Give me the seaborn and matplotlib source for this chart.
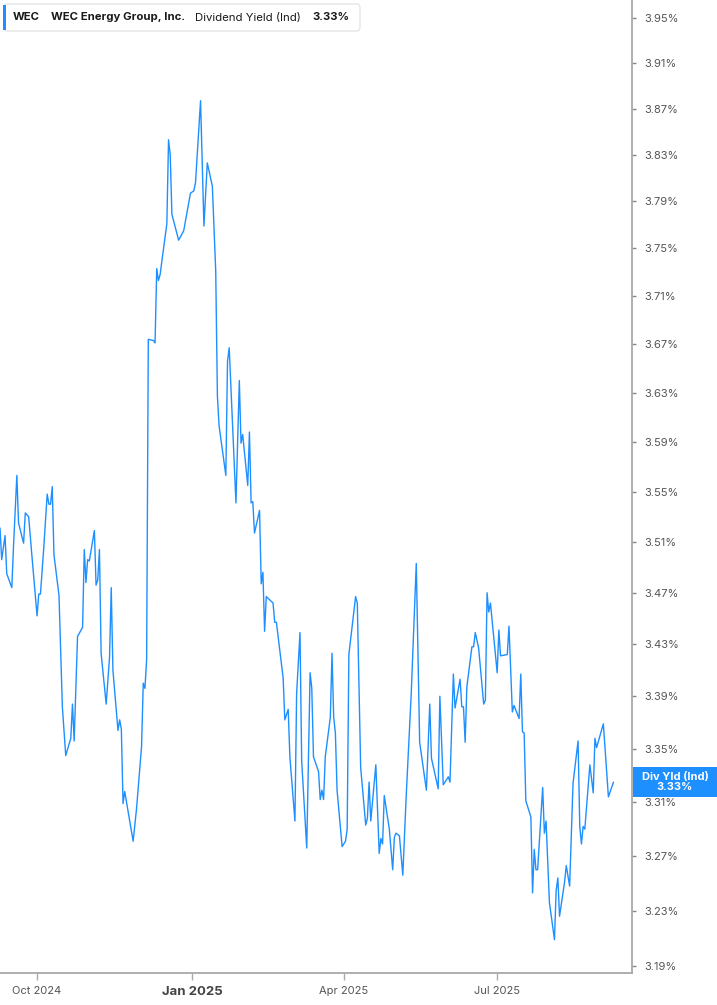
import pandas as pd
import matplotlib
matplotlib.use('Agg')
import matplotlib.pyplot as plt
import matplotlib.dates as mdates
from matplotlib.ticker import FixedLocator, FuncFormatter, NullLocator
from matplotlib.patches import FancyBboxPatch, Rectangle
import seaborn as sns

# WEC dividend yield (indicated)
dates = [
    '2024-09-09', '2024-09-10', '2024-09-12', '2024-09-13', '2024-09-16', '2024-09-17',
    '2024-09-19', '2024-09-20', '2024-09-23', '2024-09-24', '2024-09-26', '2024-09-28',
    '2024-10-01', '2024-10-02', '2024-10-03', '2024-10-05', '2024-10-07', '2024-10-08',
    '2024-10-09', '2024-10-10', '2024-10-11', '2024-10-14', '2024-10-16', '2024-10-18',
    '2024-10-21', '2024-10-22', '2024-10-23', '2024-10-25', '2024-10-28', '2024-10-29',
    '2024-10-30', '2024-10-31', '2024-11-01', '2024-11-04', '2024-11-05', '2024-11-06',
    '2024-11-07', '2024-11-08', '2024-11-11', '2024-11-13', '2024-11-14', '2024-11-15',
    '2024-11-18', '2024-11-19', '2024-11-20', '2024-11-21', '2024-11-22', '2024-11-27',
    '2024-11-29', '2024-12-02', '2024-12-03', '2024-12-04', '2024-12-05', '2024-12-06',
    '2024-12-09', '2024-12-10', '2024-12-11', '2024-12-12', '2024-12-13', '2024-12-17',
    '2024-12-18', '2024-12-19', '2024-12-20', '2024-12-24', '2024-12-27', '2024-12-31',
    '2025-01-02', '2025-01-03', '2025-01-06', '2025-01-08', '2025-01-10', '2025-01-13',
    '2025-01-15', '2025-01-16', '2025-01-17', '2025-01-21', '2025-01-22', '2025-01-23',
    '2025-01-27', '2025-01-29', '2025-01-30', '2025-01-31', '2025-02-03', '2025-02-04',
    '2025-02-05', '2025-02-06', '2025-02-07', '2025-02-10', '2025-02-11', '2025-02-12',
    '2025-02-13', '2025-02-14', '2025-02-18', '2025-02-19', '2025-02-20', '2025-02-24',
    '2025-02-25', '2025-02-27', '2025-02-28', '2025-03-03', '2025-03-04', '2025-03-06',
    '2025-03-07', '2025-03-10', '2025-03-12', '2025-03-13', '2025-03-14', '2025-03-17',
    '2025-03-18', '2025-03-19', '2025-03-20', '2025-03-21', '2025-03-24', '2025-03-25',
    '2025-03-26', '2025-03-27', '2025-03-28', '2025-03-31', '2025-04-02', '2025-04-03',
    '2025-04-04', '2025-04-08', '2025-04-09', '2025-04-11', '2025-04-14', '2025-04-15',
    '2025-04-16', '2025-04-17', '2025-04-20', '2025-04-22', '2025-04-23', '2025-04-24',
    '2025-04-25', '2025-04-28', '2025-04-30', '2025-05-01', '2025-05-02', '2025-05-04',
    '2025-05-06', '2025-05-08', '2025-05-11', '2025-05-14', '2025-05-16', '2025-05-20',
    '2025-05-22', '2025-05-23', '2025-05-27', '2025-05-28', '2025-05-30', '2025-06-02',
    '2025-06-03', '2025-06-05', '2025-06-06', '2025-06-09', '2025-06-10', '2025-06-11',
    '2025-06-12', '2025-06-13', '2025-06-16', '2025-06-17', '2025-06-18', '2025-06-20',
    '2025-06-23', '2025-06-24', '2025-06-25', '2025-06-26', '2025-06-27', '2025-07-01',
    '2025-07-02', '2025-07-03', '2025-07-07', '2025-07-08', '2025-07-10', '2025-07-11',
    '2025-07-14', '2025-07-15', '2025-07-16', '2025-07-17', '2025-07-18', '2025-07-21',
    '2025-07-22', '2025-07-23', '2025-07-24', '2025-07-25', '2025-07-28', '2025-07-29',
    '2025-07-30', '2025-08-01', '2025-08-04', '2025-08-05', '2025-08-06', '2025-08-07',
    '2025-08-10', '2025-08-11', '2025-08-13', '2025-08-15', '2025-08-18', '2025-08-19',
    '2025-08-20', '2025-08-21', '2025-08-22', '2025-08-25', '2025-08-27', '2025-08-28',
    '2025-08-29', '2025-09-02', '2025-09-05', '2025-09-08',
]
div_yield = [
    3.521, 3.496, 3.515, 3.485, 3.474, 3.506,
    3.563, 3.525, 3.509, 3.533, 3.530, 3.498,
    3.452, 3.469, 3.469, 3.506, 3.548, 3.540,
    3.540, 3.554, 3.500, 3.468, 3.382, 3.345,
    3.358, 3.384, 3.356, 3.436, 3.443, 3.504,
    3.478, 3.496, 3.495, 3.519, 3.476, 3.480,
    3.504, 3.423, 3.384, 3.420, 3.474, 3.410,
    3.364, 3.372, 3.365, 3.309, 3.318, 3.281,
    3.305, 3.352, 3.400, 3.396, 3.418, 3.674,
    3.673, 3.671, 3.733, 3.723, 3.728, 3.771,
    3.843, 3.830, 3.779, 3.757, 3.765, 3.797,
    3.799, 3.806, 3.877, 3.769, 3.823, 3.803,
    3.731, 3.627, 3.603, 3.563, 3.656, 3.667,
    3.541, 3.640, 3.589, 3.596, 3.555, 3.598,
    3.541, 3.542, 3.517, 3.535, 3.477, 3.486,
    3.440, 3.467, 3.462, 3.447, 3.447, 3.404,
    3.372, 3.380, 3.344, 3.296, 3.392, 3.439,
    3.341, 3.276, 3.408, 3.396, 3.344, 3.333,
    3.312, 3.319, 3.312, 3.344, 3.374, 3.423,
    3.374, 3.362, 3.319, 3.277, 3.281, 3.290,
    3.422, 3.467, 3.462, 3.336, 3.293, 3.298,
    3.325, 3.296, 3.338, 3.272, 3.283, 3.279,
    3.315, 3.290, 3.260, 3.284, 3.287, 3.285,
    3.256, 3.314, 3.392, 3.493, 3.355, 3.319,
    3.384, 3.343, 3.320, 3.390, 3.323, 3.329,
    3.325, 3.407, 3.381, 3.403, 3.382, 3.382,
    3.355, 3.397, 3.428, 3.428, 3.439, 3.427,
    3.384, 3.387, 3.470, 3.455, 3.462, 3.408,
    3.441, 3.421, 3.422, 3.444, 3.378, 3.383,
    3.373, 3.407, 3.363, 3.362, 3.311, 3.299,
    3.243, 3.275, 3.260, 3.260, 3.321, 3.287,
    3.296, 3.236, 3.209, 3.245, 3.254, 3.226,
    3.251, 3.263, 3.248, 3.324, 3.356, 3.292,
    3.279, 3.292, 3.290, 3.338, 3.317, 3.358,
    3.351, 3.369, 3.314, 3.325,
]

y_ticks = [3.19, 3.23, 3.27, 3.31, 3.35, 3.39, 3.43, 3.47, 3.51, 3.55,
           3.59, 3.63, 3.67, 3.71, 3.75, 3.79, 3.83, 3.87, 3.91, 3.95]
x_ticks = ['2024-10-01', '2025-01-01', '2025-04-01', '2025-07-01']
x_labels = ['Oct 2024', 'Jan 2025', 'Apr 2025', 'Jul 2025']

BLUE = '#1e8fff'
W, H = 717, 1005

sns.set_style('white')
plt.rcParams['font.family'] = ['Inter', 'DejaVu Sans']

df = pd.DataFrame({'date': pd.to_datetime(dates), 'yield': div_yield})

fig = plt.figure(figsize=(W / 100, H / 100), dpi=100)
ax = fig.add_axes([0, 1 - 973 / H, 632 / W, 973 / H])
sns.lineplot(data=df, x='date', y='yield', ax=ax, color=BLUE, linewidth=1.0)

ax.set_yscale('log')
ax.set_ylim(3.185, 3.966)
ax.set_xlim(pd.Timestamp('2024-09-09'), pd.Timestamp('2025-09-19'))
ax.set_xlabel('')
ax.set_ylabel('')

# right-hand percent axis
ax.yaxis.tick_right()
ax.yaxis.set_major_locator(FixedLocator(y_ticks))
ax.yaxis.set_minor_locator(NullLocator())
ax.yaxis.set_major_formatter(FuncFormatter(lambda v, p: f'{v:.2f}%'))
ax.tick_params(axis='y', which='major', right=True, left=False, length=3,
               width=1, color='#888888', pad=6, labelsize=8, labelcolor='#555555')

ax.set_xticks(pd.to_datetime(x_ticks))
ax.set_xticklabels(x_labels)
ax.tick_params(axis='x', bottom=True, length=5, width=1, color='#aaaaaa',
               pad=4, labelsize=8, labelcolor='#555555')
for lbl in ax.get_xticklabels():
    if lbl.get_text() == 'Jan 2025':
        lbl.set_fontweight('bold')
        lbl.set_fontsize(9.5)
        lbl.set_color('#444444')

for side in ['left', 'top']:
    ax.spines[side].set_visible(False)
for side in ['right', 'bottom']:
    ax.spines[side].set_color('#a8a8a8')
    ax.spines[side].set_linewidth(1.3)


def fx(px):
    return px / W


def fy(py):
    return 1 - py / H


# header legend box
box = FancyBboxPatch((fx(4), fy(31)), fx(356), 27 / H,
                     boxstyle='round,pad=0,rounding_size=0.004',
                     transform=fig.transFigure, facecolor='white',
                     edgecolor='#e6e6e6', linewidth=1.0, zorder=5)
fig.add_artist(box)
fig.add_artist(Rectangle((fx(3), fy(30)), fx(3), 25 / H, transform=fig.transFigure,
                         facecolor=BLUE, edgecolor='none', zorder=6))
head_y = fy(17.5)
head_size = 8.2
fig.text(fx(13), head_y, 'WEC', weight='bold', size=head_size, va='center',
         color='#1a1a1a', zorder=7)
fig.text(fx(51), head_y, 'WEC Energy Group, Inc.', weight='bold', size=head_size,
         va='center', color='#1a1a1a', zorder=7)
fig.text(fx(195), head_y, 'Dividend Yield (Ind)', size=head_size, va='center',
         color='#1a1a1a', zorder=7)
fig.text(fx(312), head_y, f'{div_yield[-1]:.2f}%', weight='bold', size=head_size,
         va='center', color='#1a1a1a', zorder=7)

# last value tag on the right axis
last_disp = ax.transData.transform((mdates.date2num(df['date'].iloc[-1]), div_yield[-1]))
last_py = H - last_disp[1]
fig.add_artist(Rectangle((fx(633), fy(last_py + 15)), fx(84), 30 / H,
                         transform=fig.transFigure, facecolor=BLUE, edgecolor='none', zorder=6))
fig.text(fx(675), fy(last_py), f'Div Yld (Ind)\n{div_yield[-1]:.2f}%', color='white',
         weight='bold', size=8, ha='center', va='center', linespacing=1.05, zorder=7)

fig.savefig('out.png', dpi=100)
